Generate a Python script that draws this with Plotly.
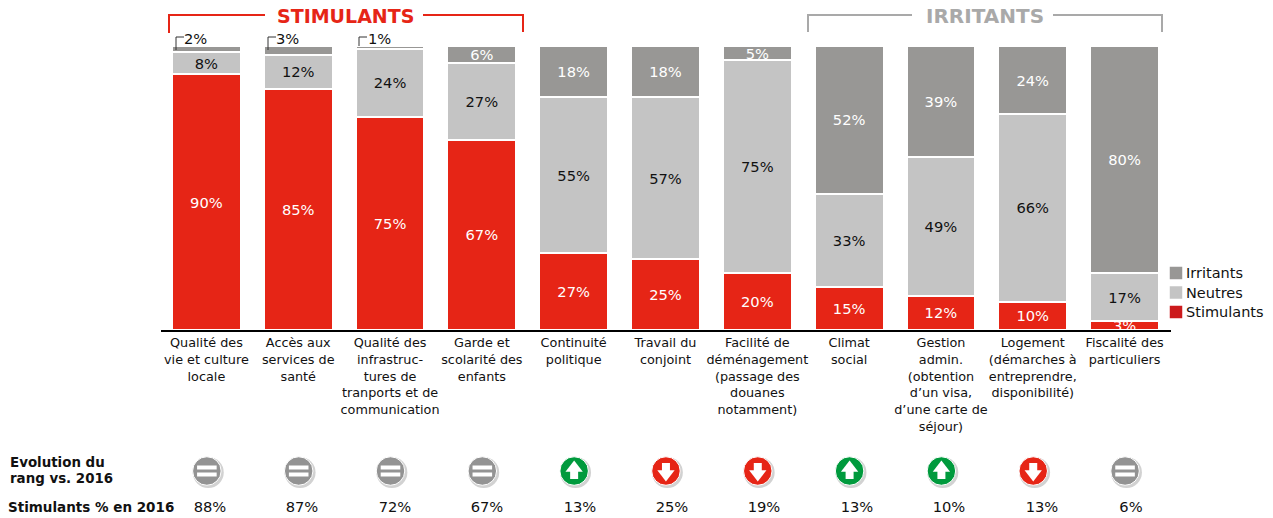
import plotly.graph_objects as go

W, H = 1273, 518
FONT = "DejaVu Sans, Verdana, sans-serif"
RED, MID, DARK, GREEN, EQ = "#e62516", "#c4c4c4", "#989795", "#009a3d", "#939393"

categories = ["Qualité des<br>vie et culture<br>locale", "Accès aux<br>services de<br>santé",
              "Qualité des<br>infrastruc-<br>tures de<br>tranports et de<br>communication",
              "Garde et<br>scolarité des<br>enfants", "Continuité<br>politique", "Travail du<br>conjoint",
              "Facilité de<br>déménagement<br>(passage des<br>douanes<br>notamment)", "Climat<br>social",
              "Gestion<br>admin.<br>(obtention<br>d’un visa,<br>d’une carte de<br>séjour)",
              "Logement<br>(démarches à<br>entreprendre,<br>disponibilité)", "Fiscalité des<br>particuliers"]
stimulants = [90, 85, 75, 67, 27, 25, 20, 15, 12, 10, 3]
neutres = [8, 12, 24, 27, 55, 57, 75, 33, 49, 66, 17]
irritants = [2, 3, 1, 6, 18, 18, 5, 52, 39, 24, 80]
evolution = ["=", "=", "=", "=", "up", "down", "down", "up", "up", "down", "="]
stim_2016 = [88, 87, 72, 67, 13, 25, 19, 13, 10, 13, 6]

idx = list(range(len(categories)))
UNIT = 1010 / 11
LEFT = 160.5


def px_to_x(px):
    return (px - LEFT) / UNIT - 0.5


fig = go.Figure()
for name, vals, col, tc, minv in [("Stimulants", stimulants, RED, "white", 0),
                                  ("Neutres", neutres, MID, "#111111", 0),
                                  ("Irritants", irritants, DARK, "white", 4)]:
    fig.add_trace(go.Bar(x=idx, y=vals, name=name, width=0.75, showlegend=False,
                         marker=dict(color=col, line=dict(color="white", width=2)),
                         text=[f"{v}%" if v >= minv else "" for v in vals],
                         textposition="inside", insidetextanchor="middle", constraintext="none",
                         textangle=0, cliponaxis=False,
                         textfont=dict(color=tc, size=14.7, family=FONT), hoverinfo="skip"))

# Icon row (bar axis for x, full-page pixel axis for y)
ROW_Y = 471
colors = {"=": EQ, "up": GREEN, "down": RED}
icon_x = [i + 0.005 for i in idx]
fig.add_trace(go.Scatter(x=[i + 0.02 for i in idx], y=[ROW_Y + 1.5] * 11, xaxis="x", yaxis="y2", mode="markers",
                         marker=dict(size=31, color="#d2d2d2", line=dict(width=0)), showlegend=False, hoverinfo="skip"))
fig.add_trace(go.Scatter(x=icon_x, y=[ROW_Y] * 11, xaxis="x", yaxis="y2", mode="markers",
                         marker=dict(size=28.5, color=[colors[e] for e in evolution], line=dict(color="white", width=1)),
                         showlegend=False, hoverinfo="skip"))
eq_x = [icon_x[i] for i in idx if evolution[i] == "="]
for dy in (-3.5, 3.5):
    fig.add_trace(go.Scatter(x=eq_x, y=[ROW_Y + dy] * len(eq_x), xaxis="x", yaxis="y2", mode="markers",
                             marker=dict(symbol="line-ew", size=14, line=dict(color="white", width=4)),
                             showlegend=False, hoverinfo="skip"))
for kind, sym, head, tail in [("up", "triangle-up", -3, 4), ("down", "triangle-down", 3, -4)]:
    xs = [icon_x[i] for i in idx if evolution[i] == kind]
    fig.add_trace(go.Scatter(x=xs, y=[ROW_Y + head] * len(xs), xaxis="x", yaxis="y2", mode="markers",
                             marker=dict(symbol=sym, size=15, color="white", line=dict(width=0)),
                             showlegend=False, hoverinfo="skip"))
    fig.add_trace(go.Scatter(x=xs, y=[ROW_Y + tail] * len(xs), xaxis="x", yaxis="y2", mode="markers",
                             marker=dict(symbol="square", size=8, color="white", line=dict(width=0)),
                             showlegend=False, hoverinfo="skip"))

# 2016 percentages row
row2_px = [210, 302, 395, 487, 580, 672, 764, 857, 949, 1042, 1131]
fig.add_trace(go.Scatter(x=[px_to_x(p) for p in row2_px], y=[508.5] * 11, xaxis="x", yaxis="y2", mode="text",
                         text=[f"{v}%" for v in stim_2016], textposition="middle center",
                         textfont=dict(size=14.7, color="#111111", family=FONT), showlegend=False, hoverinfo="skip"))

# Hand-built legend
leg_y = [273, 292.5, 312]
leg_names = ["Irritants", "Neutres", "Stimulants"]
leg_cols = [DARK, MID, "#cc1a1c"]
fig.add_trace(go.Scatter(x=[1176] * 3, y=leg_y, xaxis="x2", yaxis="y2", mode="markers",
                         marker=dict(symbol="square", size=12.5, color=leg_cols, line=dict(width=0)),
                         showlegend=False, hoverinfo="skip"))

shapes = []


def seg(points, color, width):
    path = "M " + " L ".join(f"{x} {y}" for x, y in points)
    shapes.append(dict(type="path", path=path, xref="x2", yref="y2",
                       line=dict(color=color, width=width), layer="above"))


seg([(169, 33), (169, 15), (265, 15)], "#e62516", 2)
seg([(423, 15), (523, 15), (523, 32)], "#e62516", 2)
seg([(808, 32), (808, 15), (912, 15)], "#a9a9a9", 2)
seg([(1053, 15), (1162, 15), (1162, 32)], "#a9a9a9", 2)
seg([(176, 50), (176, 37), (184, 37)], "#333333", 1)
seg([(268, 50), (268, 37), (276, 37)], "#333333", 1)
seg([(359, 46), (359, 37), (367, 37)], "#333333", 1)

ann = []


def label(x, y, t, size=14, color="#111111", bold=False, anchor="left"):
    ann.append(dict(x=x, y=y, xref="x2", yref="y2", text=f"<b>{t}</b>" if bold else t, showarrow=False,
                    xanchor=anchor, yanchor="middle", align="left", xshift=0,
                    font=dict(size=size, color=color, family=FONT)))


label(345.5, 16, "STIMULANTS", 19, "#e62516", True, "center")
label(984.5, 16, "IRRITANTS", 20, "#a9a9a9", True, "center")
label(182, 38, "2%", 14.7)
label(274, 38, "3%", 14.7)
label(366, 38, "1%", 14.7)
for y, n in zip(leg_y, leg_names):
    label(1183.5, y, n, 14.5)
label(8, 462, "Evolution du", 13.4, "#111111", True)
label(8, 478, "rang vs. 2016", 13.4, "#111111", True)
label(6, 507, "Stimulants % en 2016", 13.5, "#111111", True)

fig.update_layout(
    width=W, height=H, margin=dict(l=0, r=0, t=0, b=0), barmode="stack", bargap=0.25,
    paper_bgcolor="white", plot_bgcolor="rgba(0,0,0,0)", showlegend=False, shapes=shapes, annotations=ann,
    font=dict(family=FONT),
    xaxis=dict(domain=[LEFT / W, (LEFT + 1010) / W], range=[-0.5, 10.5], tickmode="array", tickvals=idx,
               ticktext=categories, tickangle=0, ticks="", showline=True, linecolor="black", linewidth=2,
               showgrid=False, zeroline=False,
               tickfont=dict(size=12.8, color="#111111", family=FONT), fixedrange=True, anchor="y"),
    yaxis=dict(domain=[1 - 330 / H, 1 - 46 / H], range=[0, 100], visible=False, fixedrange=True, anchor="x"),
    xaxis2=dict(domain=[0, 1], range=[0, W], visible=False, anchor="y2", fixedrange=True),
    yaxis2=dict(domain=[0, 1], range=[H, 0], visible=False, anchor="x2", fixedrange=True),
)
fig.write_html("out.html", post_script="document.body.style.margin='0';", config={"displayModeBar": False})
